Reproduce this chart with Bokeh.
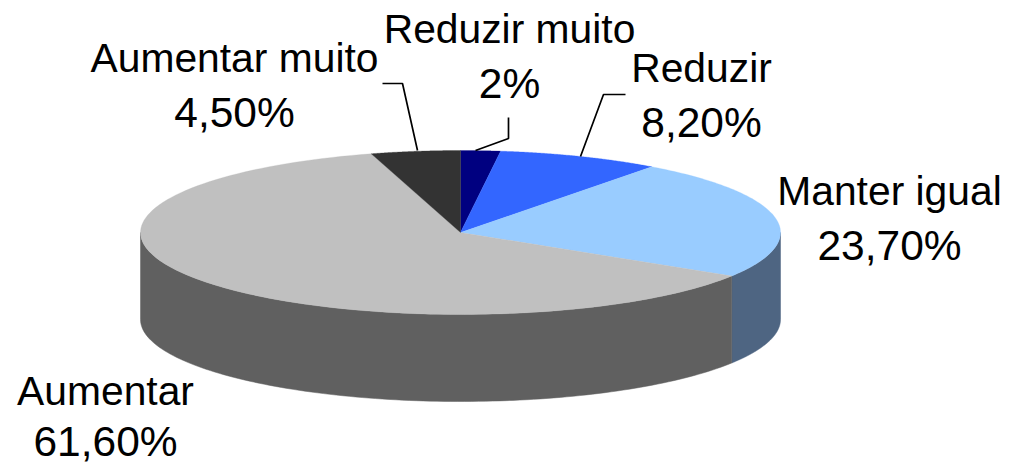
import numpy as np
from bokeh.plotting import figure
from bokeh.core.properties import value
from bokeh.embed import file_html
from bokeh.resources import INLINE

categories = ["Reduzir muito", "Reduzir", "Manter igual", "Aumentar", "Aumentar muito"]
values = [2.0, 8.2, 23.7, 61.6, 4.5]
value_labels = ["2%", "8,20%", "23,70%", "61,60%", "4,50%"]
top_colors = ["#000080", "#3366FF", "#99CCFF", "#C0C0C0", "#333333"]
side_colors = ["#00003F", "#1A3380", "#4E6582", "#606060", "#191919"]

CX, CY, RX, RY, DEPTH = 460.0, 232.0, 320.0, 82.0, 87.0

p = figure(width=1009, height=464, x_range=(0, 1009), y_range=(464, 0),
           output_backend="svg", toolbar_location=None, min_border=0)
p.axis.visible = False
p.grid.visible = False
p.outline_line_color = None
p.background_fill_color = "white"
p.border_fill_color = "white"


def arc(a0, a1, n=120):
    t = np.radians(np.linspace(a0, a1, n))
    return CX + RX * np.sin(t), CY - RY * np.cos(t)


edges = np.concatenate([[0.0], np.cumsum(values)]) / sum(values) * 360.0

# rim of the disc: only the part facing the viewer (90 to 270 degrees)
for i, c in enumerate(side_colors):
    a0, a1 = max(edges[i], 90.0), min(edges[i + 1], 270.0)
    if a1 <= a0:
        continue
    x, y = arc(a0, a1)
    p.patch(np.r_[x, x[::-1]], np.r_[y, y[::-1] + DEPTH], fill_color=c, line_color=c, line_width=0.5)

# top face
for i, c in enumerate(top_colors):
    x, y = arc(edges[i], edges[i + 1])
    p.patch(np.r_[CX, x], np.r_[CY, y], fill_color=c, line_color=c, line_width=0.3)

# leader lines
for lx, ly in [([382, 402, 417], [83, 83, 150]),
               ([508, 508, 475], [117, 138, 150]),
               ([625, 603, 580], [94, 94, 156])]:
    p.line(lx, ly, line_color="black", line_width=1.7)

# labels
anchors = {"Reduzir muito": (509, 28, 83), "Reduzir": (701, 67, 122),
           "Manter igual": (889, 190, 245), "Aumentar": (105, 390, 441),
           "Aumentar muito": (234, 57, 112)}
for name, lab in zip(categories, value_labels):
    ax, y1, y2 = anchors[name]
    p.text([ax], [y1], text=[name], text_font=value("Liberation Sans"),
           text_font_size="40.8px", text_align="center", text_baseline="alphabetic", text_color="black")
    p.text([ax], [y2], text=[lab], text_font=value("Liberation Sans"),
           text_font_size="42.5px", text_align="center", text_baseline="alphabetic", text_color="black")

open("out.html", "w").write(file_html(p, INLINE))
